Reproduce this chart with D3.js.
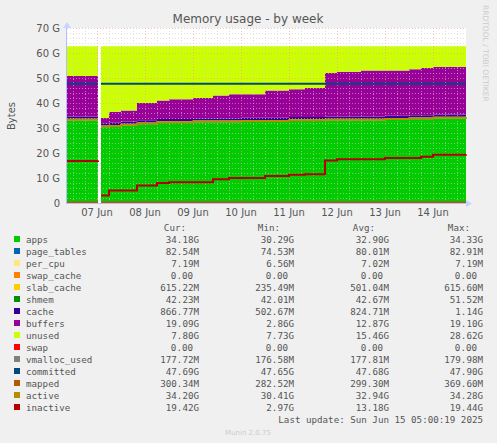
<!DOCTYPE html>
<html><head><meta charset="utf-8">
<script src="https://cdn.jsdelivr.net/npm/d3@7"></script>
<style>body{margin:0;background:#f0f0f0}svg{display:block}</style>
</head><body><svg id="c" width="497" height="443"></svg>
<script>
// hours since 06 Jun 00:00, null marks the data gap
var hours=[9,24.5,null,26,30,36,44,54,60,72,82,90,96,108,120,128,137,138,144,156,168,180,186,192,208.5];
var apps=[33,33,null,30.3,30.5,31,31.5,32,32,32.3,32.3,32.3,32.5,32.5,32.8,32.8,32.8,33,33,33,33.3,33.5,33.5,33.8,34];
var bufTop=[50.8,51.5,null,34,36.5,37,40,41,41.5,42,43,43.5,43.5,45,45.5,46,46,52,52.5,53,53,53.5,54,54.5,54.5];
var inactive=[16.8,17,null,3,5,5,7,8,8.3,8.3,9.5,10,10,10.8,11.3,11.5,11.5,17,17.5,17.5,18,18,18.5,19.3,19.4];
var total=62.7;
var small={page_tables:0.08,per_cpu:0.007,swap_cache:0,slab_cache:0.6,shmem:0.04,cache:0.87};
var lineConst={swap:0,vmalloc_used:0.18,committed:47.7,mapped:0.3};
var legendNames=["apps","page_tables","per_cpu","swap_cache","slab_cache","shmem","cache","buffers","unused","swap","vmalloc_used","committed","mapped","active","inactive"];
var colors=["#00CC00","#0066B3","#FFE680","#FF8000","#FFCC00","#008F00","#330099","#990099","#CCFF00","#FF0000","#808080","#00487D","#B35A00","#B38F00","#B30000"];
var cur=["34.18G","82.54M","7.19M","0.00","615.22M","42.23M","866.77M","19.09G","7.80G","0.00","177.72M","47.69G","300.34M","34.20G","19.42G"];
var mins=["30.29G","74.53M","6.56M","0.00","235.49M","42.01M","502.67M","2.86G","7.73G","0.00","176.58M","47.65G","282.52M","30.41G","2.97G"];
var avgs=["32.90G","80.01M","7.02M","0.00","501.04M","42.67M","824.71M","12.87G","15.46G","0.00","177.81M","47.68G","299.30M","32.94G","13.18G"];
var maxs=["34.33G","82.91M","7.19M","0.00","615.60M","51.52M","1.14G","19.10G","28.62G","0.00","179.98M","47.90G","369.60M","34.28G","19.44G"];
var dayLabels=["07 Jun","08 Jun","09 Jun","10 Jun","11 Jun","12 Jun","13 Jun","14 Jun"];

var svg=d3.select("#c");
var x=d3.scaleLinear().domain([9,208.5]).range([67,466]);
var y=d3.scaleLinear().domain([0,70]).range([203,28]);
var font="DejaVu Sans, sans-serif";

svg.append("rect").attr("x",67).attr("y",28).attr("width",399).attr("height",175).attr("fill","#fff");

// build stacked rows
var smallSum=d3.sum(Object.values(small));
var rows=hours.map(function(h,i){
  if(h===null)return null;
  var r={h:h,apps:apps[i]};
  Object.keys(small).forEach(function(k){r[k]=small[k];});
  r.buffers=bufTop[i]-apps[i]-smallSum;
  r.unused=total-bufTop[i];
  return r;
});
var good=rows.filter(function(r){return r;});
var keys=legendNames.slice(0,9);
var stack=d3.stack().keys(keys)(good);
var area=d3.area().curve(d3.curveStepAfter)
  .x(function(d){return x(d.data.h);})
  .y0(function(d){return y(d[0]);}).y1(function(d){return y(d[1]);});
var gapIdx=hours.indexOf(null);
stack.forEach(function(s,k){
  [s.slice(0,gapIdx),s.slice(gapIdx)].forEach(function(seg){
    svg.append("path").attr("d",area(seg)).attr("fill",colors[k]);
  });
});

// grid
var g=svg.append("g");
d3.range(0,71,2).forEach(function(v){
  g.append("line").attr("x1",67).attr("x2",466).attr("y1",y(v)+0.5).attr("y2",y(v)+0.5)
   .attr("stroke",v%10===0?"#e8a0a0":"#ccc").attr("stroke-width",0.6).attr("stroke-dasharray","1,2");
});
d3.range(12,209,6).forEach(function(h){
  var major=h%24===0;
  g.append("line").attr("y1",28).attr("y2",203).attr("x1",x(h)+0.5).attr("x2",x(h)+0.5)
   .attr("stroke",major?"#e8a0a0":"#ccc").attr("stroke-width",0.6).attr("stroke-dasharray","1,2");
});

// lines
var line=d3.line().curve(d3.curveStepAfter)
  .x(function(d){return x(d[0]);}).y(function(d){return y(d[1]);});
function drawLine(vals,col,w){
  var pts=hours.map(function(h,i){return [h,vals[i]];});
  [pts.slice(0,gapIdx),pts.slice(gapIdx+1)].forEach(function(seg){
    svg.append("path").attr("d",line(seg)).attr("fill","none").attr("stroke",col).attr("stroke-width",w||1.5);
  });
}
drawLine(hours.map(function(){return lineConst.swap;}),colors[9]);
drawLine(hours.map(function(){return lineConst.vmalloc_used;}),colors[10]);
drawLine(hours.map(function(){return lineConst.committed;}),colors[11],2);
drawLine(hours.map(function(){return lineConst.mapped;}),colors[12]);
drawLine(apps.map(function(a){return a===null?null:a+0.3;}),colors[13],2);
drawLine(inactive,colors[14],2);

// axes
svg.append("line").attr("x1",66.5).attr("x2",66.5).attr("y1",24).attr("y2",204).attr("stroke","#b0c0ff");
svg.append("line").attr("x1",66).attr("x2",470).attr("y1",203.5).attr("y2",203.5).attr("stroke","#b0c0ff");
svg.append("path").attr("d","M63,28 L67,22 L71,28Z").attr("fill","#c8d4ff");
svg.append("path").attr("d","M466,200 L472,203.5 L466,207Z").attr("fill","#c8d4ff");
d3.range(0,71,10).forEach(function(v){
  svg.append("text").attr("x",60).attr("y",y(v)+4).attr("text-anchor","end")
   .attr("font-family",font).attr("font-size",10).attr("fill","#555").text(v+(v?" G":""));
});
dayLabels.forEach(function(l,i){
  svg.append("text").attr("x",x(24*(i+1))).attr("y",216).attr("text-anchor","middle")
   .attr("font-family",font).attr("font-size",10).attr("fill","#555").text(l);
});
svg.append("text").attr("x",248).attr("y",23).attr("text-anchor","middle")
  .attr("font-family",font).attr("font-size",12).attr("fill","#555").text("Memory usage - by week");
svg.append("text").attr("transform","translate(15,116) rotate(-90)").attr("text-anchor","middle")
  .attr("font-family",font).attr("font-size",10).attr("fill","#555").text("Bytes");
svg.append("text").attr("transform","translate(483,5) rotate(90)")
  .attr("font-family",font).attr("font-size",7.5).attr("fill","#ccc").text("RRDTOOL / TOBI OETIKER");

// legend
var mono="DejaVu Sans Mono, monospace";
[["Cur:",186],["Min:",280],["Avg:",375],["Max:",470]].forEach(function(h){
  svg.append("text").attr("x",h[1]).attr("y",231).attr("text-anchor","end")
   .attr("font-family",mono).attr("font-size",9.2).attr("fill","#555").text(h[0]);
});
legendNames.forEach(function(n,i){
  var yy=243+i*12;
  svg.append("rect").attr("x",14).attr("y",yy-7).attr("width",6).attr("height",6).attr("fill",colors[i]);
  svg.append("text").attr("x",26).attr("y",yy).attr("font-family",mono).attr("font-size",9.2).attr("fill","#555").text(n);
  [[cur,199],[mins,294],[avgs,389],[maxs,483]].forEach(function(c){
    var t=c[0][i];
    svg.append("text").attr("x",t==="0.00"?c[1]-6:c[1]).attr("y",yy).attr("text-anchor","end")
     .attr("font-family",mono).attr("font-size",9.2).attr("fill","#555").text(t);
  });
});
svg.append("text").attr("x",483).attr("y",423).attr("text-anchor","end")
  .attr("font-family",mono).attr("font-size",9.2).attr("fill","#555").text("Last update: Sun Jun 15 05:00:19 2025");
svg.append("text").attr("x",248).attr("y",435).attr("text-anchor","middle")
  .attr("font-family",font).attr("font-size",7).attr("fill","#ccc").text("Munin 2.0.75");
</script></body></html>
